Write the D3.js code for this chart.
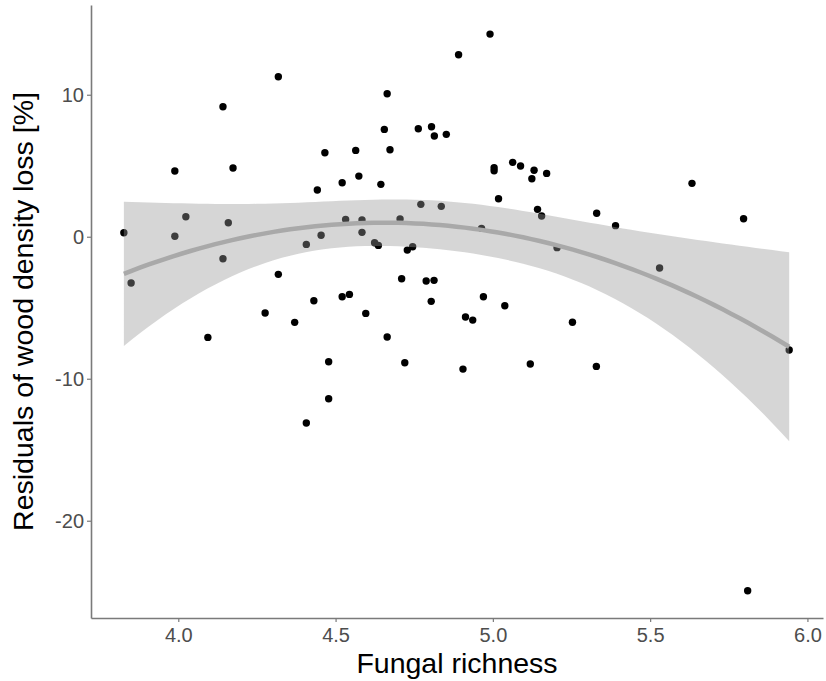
<!DOCTYPE html>
<html>
<head>
<meta charset="utf-8">
<script src="https://cdn.jsdelivr.net/npm/d3@7"></script>
<style>
  body { margin: 0; background: #fff; }
  svg { display: block; font-family: "Liberation Sans", Arial, sans-serif; }
</style>
</head>
<body>
<svg width="826" height="681"></svg>
<script>
// fungal richness (x) and residuals (y)
var richness = [4.318, 4.142, 4.466, 3.989, 4.174, 4.442, 4.991, 4.891, 4.664, 4.655,
    4.763, 4.805, 4.814, 4.852, 4.564, 4.673, 4.521, 4.574, 4.644, 5.004,
    5.004, 5.063, 5.088, 5.131, 5.124, 5.171, 5.018, 5.633, 5.330, 5.390,
    5.797, 5.530, 5.253, 5.142, 5.155, 4.771, 4.836, 4.705, 4.964, 5.204,
    4.728, 4.745, 4.710, 4.788, 4.813, 4.804, 4.970, 5.038, 4.913, 4.936,
    4.532, 4.584, 4.584, 4.624, 4.636, 4.521, 4.544, 4.596, 4.664, 3.827,
    4.024, 4.159, 3.989, 4.407, 4.454, 4.142, 3.850, 4.318, 4.431, 4.276,
    4.370, 4.094, 4.478, 4.478, 4.407, 4.720, 4.905, 5.119, 5.329, 5.942,
    5.810]
var residuals = [11.27, 9.15, 5.92, 4.63, 4.84, 3.29, 14.27, 12.82, 10.07, 7.56,
    7.61, 7.75, 7.09, 7.21, 6.08, 6.13, 3.80, 4.27, 3.69, 4.86,
    4.65, 5.24, 4.98, 4.68, 4.08, 4.46, 2.68, 3.76, 1.65, 0.78,
    1.27, -2.20, -6.02, 1.93, 1.46, 2.28, 2.14, 1.25, 0.59, -0.77,
    -0.94, -0.70, -2.96, -3.12, -3.07, -4.55, -4.23, -4.86, -5.65, -5.87,
    1.22, 1.18, 0.31, -0.42, -0.61, -4.23, -4.06, -5.40, -7.06, 0.28,
    1.41, 0.99, 0.03, -0.54, 0.10, -1.55, -3.26, -2.65, -4.51, -5.37,
    -6.03, -7.09, -8.80, -11.41, -13.12, -8.87, -9.32, -8.96, -9.13, -7.98,
    -24.93]
var xTicks = [4.0, 4.5, 5.0, 5.5, 6.0]
var yTicks = [-20, -10, 0, 10]

var svg = d3.select('svg')
var margin = {top: 5, right: 3, bottom: 63, left: 91}
var W = 826, H = 681

var x = d3.scaleLinear().domain([3.7225, 6.0495]).range([margin.left, W - margin.right])
var y = d3.scaleLinear().domain([-26.85, 16.32]).range([H - margin.bottom, margin.top])

var pts = richness.map(function(d, i) { return {x: d, y: residuals[i]} })

// quadratic least squares fit with 95% confidence band (like geom_smooth lm y ~ poly(x,2))
var n = pts.length
var xm = d3.mean(richness)
function row(v) { var c = v - xm; return [1, c, c * c] }
var XtX = [[0,0,0],[0,0,0],[0,0,0]], Xty = [0,0,0]
pts.forEach(function(p) {
    var r = row(p.x)
    for (var i = 0; i < 3; i++) {
        Xty[i] += r[i] * p.y
        for (var j = 0; j < 3; j++) XtX[i][j] += r[i] * r[j]
    }
})
function inv3(m) {
    var a = m[0][0], b = m[0][1], c = m[0][2], d = m[1][0], e = m[1][1], f = m[1][2], g = m[2][0], h = m[2][1], k = m[2][2]
    var A = e*k - f*h, B = -(d*k - f*g), C = d*h - e*g
    var det = a*A + b*B + c*C
    return [[A/det, -(b*k - c*h)/det, (b*f - c*e)/det],
            [B/det, (a*k - c*g)/det, -(a*f - c*d)/det],
            [C/det, -(a*h - b*g)/det, (a*e - b*d)/det]]
}
var XtXi = inv3(XtX)
var beta = [0,1,2].map(function(i) { return d3.sum([0,1,2], function(j) { return XtXi[i][j] * Xty[j] }) })
function predict(v) { var r = row(v); return beta[0]*r[0] + beta[1]*r[1] + beta[2]*r[2] }
var rss = d3.sum(pts, function(p) { var e = p.y - predict(p.x); return e * e })
var s2 = rss / (n - 3)
var tq = 1.9908 // t(0.975, df = 78)
var xmin = d3.min(richness), xmax = d3.max(richness)
var fit = d3.range(0, 81).map(function(i) {
    var v = xmin + (xmax - xmin) * i / 80
    var r = row(v)
    var q = 0
    for (var a = 0; a < 3; a++) for (var b = 0; b < 3; b++) q += r[a] * XtXi[a][b] * r[b]
    var se = Math.sqrt(s2 * q)
    var f = predict(v)
    return {x: v, y: f, lo: f - tq * se, hi: f + tq * se}
})

// points first, band on top (as in the figure)
svg.append('g')
    .selectAll('circle')
    .data(pts)
    .enter()
    .append('circle')
    .attr('cx', function(d) { return x(d.x) })
    .attr('cy', function(d) { return y(d.y) })
    .attr('r', 3.7)
    .attr('fill', '#000')

svg.append('path')
    .datum(fit)
    .attr('d', d3.area()
        .x(function(d) { return x(d.x) })
        .y0(function(d) { return y(d.lo) })
        .y1(function(d) { return y(d.hi) }))
    .attr('fill', '#999999')
    .attr('fill-opacity', 0.4)

svg.append('path')
    .datum(fit)
    .attr('d', d3.line()
        .x(function(d) { return x(d.x) })
        .y(function(d) { return y(d.y) }))
    .attr('fill', 'none')
    .attr('stroke', '#a9a9a9')
    .attr('stroke-width', 4.5)

// axes
var xAxis = svg.append('g')
    .attr('transform', 'translate(0,' + (H - margin.bottom) + ')')
    .call(d3.axisBottom(x).tickValues(xTicks).tickFormat(d3.format('.1f')).tickSize(4).tickSizeOuter(0).tickPadding(6))
var yAxis = svg.append('g')
    .attr('transform', 'translate(' + margin.left + ',0)')
    .call(d3.axisLeft(y).tickValues(yTicks).tickFormat(function(d) { return String(d) })
        .tickSize(4).tickSizeOuter(0).tickPadding(3))

;[xAxis, yAxis].forEach(function(g) {
    g.select('.domain').attr('stroke', '#7a7a7a').attr('stroke-width', 1.6)
    g.selectAll('.tick line').attr('stroke', '#7a7a7a').attr('stroke-width', 1.2)
    g.selectAll('.tick text').attr('fill', '#4d4d4d').style('font-size', '20px')
        .style('font-family', '"Liberation Sans", Arial, sans-serif')
})
yAxis.selectAll('.tick text').attr('dy', '0.36em')

svg.append('text')
    .attr('x', (margin.left + W - margin.right) / 2)
    .attr('y', 673)
    .attr('text-anchor', 'middle')
    .style('font-size', '28.5px')
    .attr('fill', '#000')
    .text('Fungal richness')

svg.append('text')
    .attr('transform', 'translate(33,' + ((margin.top + H - margin.bottom) / 2) + ') rotate(-90)')
    .attr('text-anchor', 'middle')
    .style('font-size', '28.5px')
    .attr('fill', '#000')
    .text('Residuals of wood density loss [%]')
</script>
</body>
</html>
